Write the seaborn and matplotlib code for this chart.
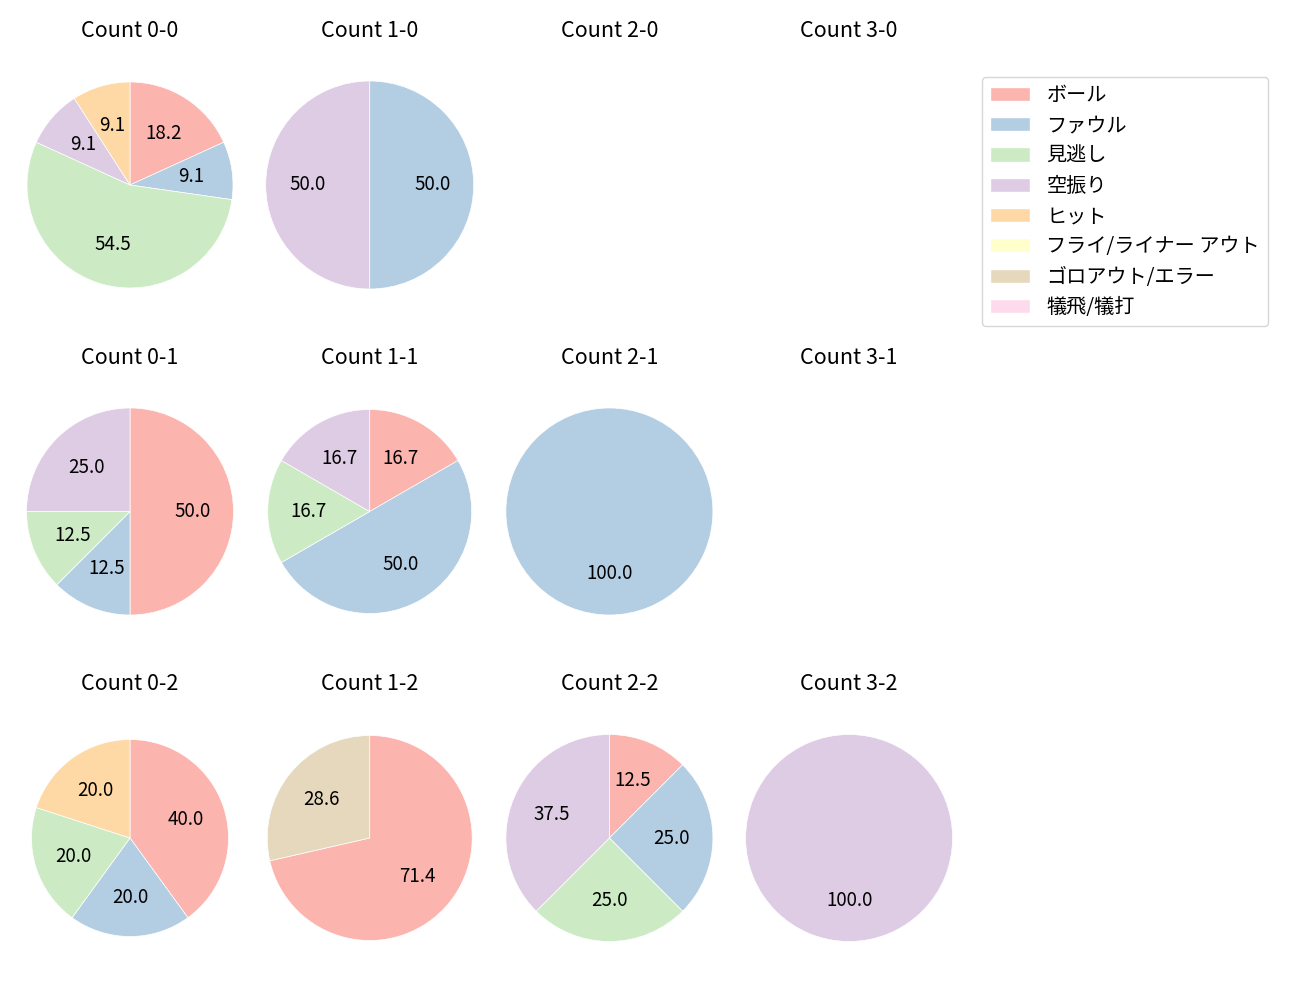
import matplotlib
matplotlib.use("Agg")
import matplotlib.pyplot as plt
import seaborn as sns
from matplotlib.patches import Patch

sns.set_style("white")
plt.rcParams['font.family'] = ['Noto Sans CJK JP', 'DejaVu Sans']
plt.rcParams['text.color'] = 'black'

categories = ["ボール", "ファウル", "見逃し", "空振り", "ヒット",
              "フライ/ライナー アウト", "ゴロアウト/エラー", "犠飛/犠打"]

# counts per category for each ball-strike count (balls-strikes)
count_00 = [2, 1, 6, 1, 1, 0, 0, 0]
count_10 = [0, 1, 0, 1, 0, 0, 0, 0]
count_20 = [0, 0, 0, 0, 0, 0, 0, 0]
count_30 = [0, 0, 0, 0, 0, 0, 0, 0]
count_01 = [4, 1, 1, 2, 0, 0, 0, 0]
count_11 = [1, 3, 1, 1, 0, 0, 0, 0]
count_21 = [0, 1, 0, 0, 0, 0, 0, 0]
count_31 = [0, 0, 0, 0, 0, 0, 0, 0]
count_02 = [2, 1, 1, 0, 1, 0, 0, 0]
count_12 = [5, 0, 0, 0, 0, 0, 2, 0]
count_22 = [1, 2, 2, 3, 0, 0, 0, 0]
count_32 = [0, 0, 0, 1, 0, 0, 0, 0]

grid = [
    [("Count 0-0", count_00), ("Count 1-0", count_10), ("Count 2-0", count_20), ("Count 3-0", count_30)],
    [("Count 0-1", count_01), ("Count 1-1", count_11), ("Count 2-1", count_21), ("Count 3-1", count_31)],
    [("Count 0-2", count_02), ("Count 1-2", count_12), ("Count 2-2", count_22), ("Count 3-2", count_32)],
]

colors = sns.color_palette("Pastel1", 8)

W, H = 1300, 1000
fig = plt.figure(figsize=(13, 10), dpi=100)

# layout: pixel radius per panel (slight variation as in reference)
radius_px = [
    [103, 104, 103, 103],
    [103.5, 102, 103.5, 103],
    [98.5, 102.5, 103.5, 103.5],
]
aw, ah = 230.0, 282.0
for r, row in enumerate(grid):
    cy = 185 + 326.5 * r
    for c, (title, vals) in enumerate(row):
        cx = 130 + 239.7 * c
        ax = fig.add_axes([(cx - aw / 2) / W, 1 - (cy + ah / 2) / H, aw / W, ah / H])
        ax.set_title(title, fontsize=15.5, pad=5)
        if sum(vals) > 0:
            R = radius_px[r][c]
            v = [x for x in vals if x > 0]
            cols = [colors[i] for i, x in enumerate(vals) if x > 0]
            ax.pie(v, colors=cols, startangle=90, counterclock=False,
                   autopct="%.1f", pctdistance=0.6,
                   wedgeprops=dict(edgecolor="white", linewidth=0.5),
                   textprops=dict(fontsize=13.5, color="black"))
            ax.set_aspect("auto")
            ax.set_xlim(-(aw / 2) / R, (aw / 2) / R)
            ax.set_ylim(-(ah / 2) / R, (ah / 2) / R)
        ax.axis("off")

handles = [Patch(facecolor=colors[i], label=categories[i]) for i in range(8)]
fig.legend(handles=handles, loc="upper left",
           bbox_to_anchor=(982 / W, 1 - 77 / H), fontsize=14.5,
           labelspacing=0.46, frameon=True, borderaxespad=0)

fig.savefig("out.png", dpi=100)
